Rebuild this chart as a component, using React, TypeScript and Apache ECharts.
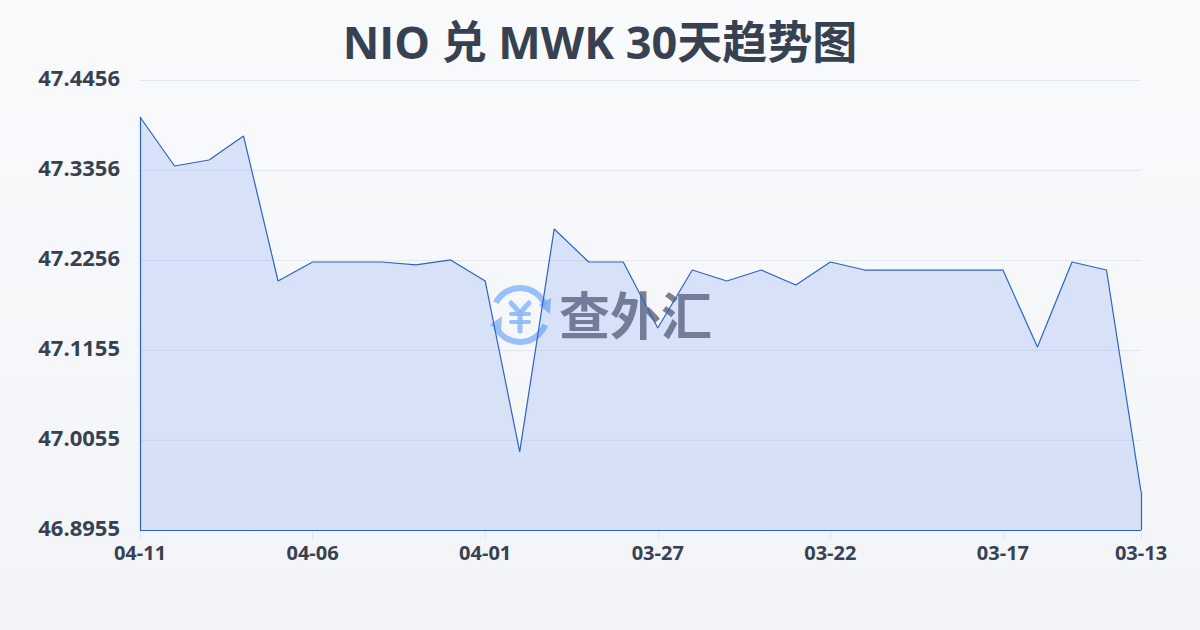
import React, { useEffect, useRef } from "react";
import * as echarts from "echarts";

const dates = ["04-11","04-10","04-09","04-08","04-07","04-06","04-05","04-04","04-03","04-02","04-01","03-31","03-30","03-29","03-28","03-27","03-26","03-25","03-24","03-23","03-22","03-21","03-20","03-19","03-18","03-17","03-16","03-15","03-14","03-13"];
const rates = [47.4004,47.3405,47.3478,47.3771,47.1999,47.2231,47.2231,47.2231,47.2195,47.2256,47.1999,46.9909,47.2635,47.2231,47.2231,47.1424,47.2133,47.1999,47.2133,47.1950,47.2231,47.2133,47.2133,47.2133,47.2133,47.2133,47.1192,47.2231,47.2133,46.9420];
const yTicks = [46.8955,47.0055,47.1155,47.2256,47.3356,47.4456];
const xLabelIdx = [0,5,10,15,20,25,29];
const titleText = "NIO 兑 MWK 30天趋势图";
const watermarkText = "查外汇";
const FONT = '"Open Sans","Noto Sans CJK SC",sans-serif';

export default function App() {
  const ref = useRef<HTMLDivElement>(null);
  useEffect(() => {
    const chart = echarts.init(ref.current!, null, { renderer: "svg" });
    const yMin = yTicks[0];
    const yMax = yTicks[yTicks.length - 1];
    const last = dates.length - 1;
    const edge = { color: "#2f62c9", width: 1.2, type: "solid" as const };
    const iconBlue = "rgba(137,182,252,0.85)";
    chart.setOption({
      animation: false,
      backgroundColor: new echarts.graphic.LinearGradient(0, 0, 0, 1, [
        { offset: 0, color: "#f8fafc" },
        { offset: 1, color: "#f3f4f7" },
      ]),
      title: {
        text: titleText,
        left: "center",
        top: 14,
        textStyle: { fontFamily: FONT, fontSize: 45, fontWeight: "bold", color: "#374151" },
      },
      grid: { left: 140, right: 59, top: 80, bottom: 100 },
      xAxis: {
        type: "category",
        data: dates,
        boundaryGap: false,
        axisLine: { lineStyle: { color: "#e2e8f0" } },
        axisTick: {
          length: 10,
          lineStyle: { color: "#e2e8f0" },
          interval: (i: number) => xLabelIdx.includes(i),
        },
        axisLabel: {
          interval: (i: number) => xLabelIdx.includes(i),
          fontFamily: FONT, fontSize: 20, fontWeight: "bold", color: "#374151", margin: 12,
        },
        splitLine: { show: false },
      },
      yAxis: {
        type: "value",
        min: yMin,
        max: yMax,
        axisLine: { show: false },
        axisTick: { show: false, customValues: yTicks },
        axisLabel: {
          customValues: yTicks,
          formatter: (v: number) => v.toFixed(4),
          fontFamily: FONT, fontSize: 22, fontWeight: "bold", color: "#374151", margin: 20,
          verticalAlign: "bottom",
          lineHeight: 6,
        },
        splitLine: { show: true, lineStyle: { color: "#e2e8f0", width: 1 } },
      },
      graphic: [
        {
          type: "group", z: 10, silent: true,
          children: [
            { type: "arc", shape: { cx: 520, cy: 315, r: 27, startAngle: -Math.PI * 0.85, endAngle: -Math.PI * 0.12 }, style: { stroke: iconBlue, lineWidth: 6, fill: "none" } },
            { type: "arc", shape: { cx: 520, cy: 315, r: 27, startAngle: Math.PI * 0.12, endAngle: Math.PI * 0.85 }, style: { stroke: iconBlue, lineWidth: 6, fill: "none" } },
            { type: "polygon", shape: { points: [[539, 305], [551, 298], [550, 314]] }, style: { fill: iconBlue } },
            { type: "polygon", shape: { points: [[490, 325], [502, 316], [501, 332]] }, style: { fill: iconBlue } },
            { type: "polyline", shape: { points: [[511, 303], [520, 313], [529, 303]] }, style: { stroke: iconBlue, lineWidth: 5, fill: "none", lineCap: "round" } },
            { type: "line", shape: { x1: 520, y1: 313, x2: 520, y2: 331 }, style: { stroke: iconBlue, lineWidth: 5, lineCap: "round" } },
            { type: "line", shape: { x1: 511, y1: 314, x2: 529, y2: 314 }, style: { stroke: iconBlue, lineWidth: 4, lineCap: "round" } },
            { type: "line", shape: { x1: 511, y1: 322, x2: 529, y2: 322 }, style: { stroke: iconBlue, lineWidth: 4, lineCap: "round" } },
            { type: "text", x: 559, y: 289, style: { text: watermarkText, font: `bold 51px ${FONT}`, fill: "rgba(92,96,108,0.78)" } },
          ],
        },
      ],
      series: [
        {
          type: "line",
          data: rates,
          z: 3,
          showSymbol: false,
          symbol: "none",
          lineStyle: { color: "#2f62c9", width: 1.2 },
          areaStyle: {
            opacity: 1,
            color: new echarts.graphic.LinearGradient(0, 0, 0, 1, [
              { offset: 0, color: "rgba(37,99,235,0.15)" },
              { offset: 1, color: "rgba(37,99,235,0.14)" },
            ]),
          },
          markLine: {
            silent: true,
            symbol: "none",
            label: { show: false },
            lineStyle: edge,
            data: [
              [{ xAxis: dates[0], yAxis: yMin }, { xAxis: dates[0], yAxis: rates[0] }],
              [{ xAxis: dates[0], yAxis: yMin }, { xAxis: dates[last], yAxis: yMin }],
              [{ xAxis: dates[last], yAxis: yMin }, { xAxis: dates[last], yAxis: rates[last] }],
            ],
          },
        },
      ],
    });
    return () => chart.dispose();
  }, []);
  return <div ref={ref} style={{ position: "fixed", left: 0, top: 0, width: 1200, height: 630 }} />;
}
